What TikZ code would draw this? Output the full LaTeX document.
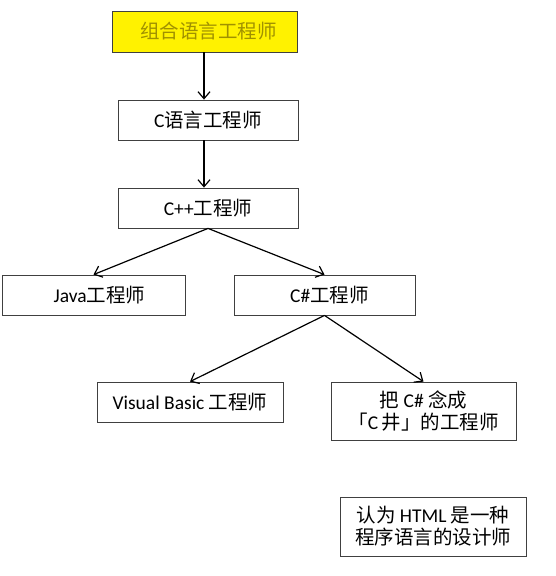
\documentclass[tikz,border=0pt]{standalone}
\usepackage{fontspec}
\setmainfont{Carlito}
\newfontfamily\cjk{Noto Sans CJK SC}
\usetikzlibrary{arrows.meta}
\definecolor{olivetext}{RGB}{160,145,0}
\newcommand{\zh}[1]{{\cjk #1}}
\begin{document}
\begin{tikzpicture}[x=1pt,y=-1pt,
  box/.style={draw=black!75, line width=0.8pt, fill=white, inner sep=0pt, font=\fontsize{19.5}{22}\selectfont, align=center},
  conn/.style={draw=black, line width=1.2pt, -{Straight Barb[length=7pt,width=12pt,line width=1.2pt]}}]
\useasboundingbox (0,0) rectangle (555,576);
\fill[white] (0,0) rectangle (555,576);
\node[box, fill=yellow, text=olivetext, minimum width=185pt, minimum height=41pt] (asm) at (204.5,31.5) {\hspace{8pt}\zh{组合语言工程师}};
\node[box, minimum width=180pt, minimum height=40pt] (c) at (208,120) {C\zh{语言工程师}};
\node[box, minimum width=180pt, minimum height=40pt] (cpp) at (208,208) {C++\zh{工程师}};
\node[box, minimum width=183pt, minimum height=40pt] (java) at (93.5,295) {\hspace{12pt}Java\zh{工程师}};
\node[box, minimum width=181pt, minimum height=40pt] (cs) at (324.5,295) {\hspace{10pt}C\#\zh{工程师}};
\node[box, minimum width=186pt, minimum height=40pt] (vb) at (190,402) {Visual Basic \zh{工程师}};
\node[box, minimum width=185pt, minimum height=58pt] (sharp) at (423.5,411) {\zh{把} C\# \zh{念成}\\\zh{「}C\,\zh{井」的工程师}};
\node[box, minimum width=186pt, minimum height=59pt] (html) at (433,526.5) {\zh{认为} HTML \zh{是一种}\\\zh{程序语言的设计师}};
\draw[conn] (asm.south -| 204,0) -- (c.north -| 204,0);
\draw[conn] (c.south -| 204,0) -- (cpp.north -| 204,0);
\draw[conn] (cpp.south) -- (java.north);
\draw[conn] (cpp.south) -- (cs.north);
\draw[conn] (cs.south) -- (vb.north);
\draw[conn] (cs.south) -- (sharp.north);
\end{tikzpicture}
\end{document}
